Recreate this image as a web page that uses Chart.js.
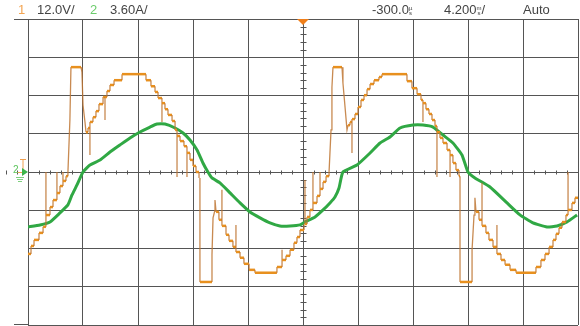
<!DOCTYPE html>
<html><head><meta charset="utf-8">
<script src="https://cdn.jsdelivr.net/npm/chart.js@4.4.1/dist/chart.umd.min.js"></script>
<style>
html,body{margin:0;padding:0;background:#fff;}
#wrap{position:relative;width:580px;height:326px;overflow:hidden;background:#fff;}
canvas{position:absolute;left:0;top:0;}
.t{position:absolute;top:2px;font:13px "Liberation Sans",Arial,sans-serif;color:#444;white-space:nowrap;line-height:16px;}
.u{display:inline-block;font-size:6px;line-height:5px;vertical-align:top;margin-top:4px;text-align:center;}
.g{position:absolute;font:10px "Liberation Sans",Arial,sans-serif;color:#5bc45b;}
</style></head><body>
<div id="wrap">
<canvas id="c" width="580" height="326"></canvas>
<span class="t" style="left:18px;color:#f3a552">1</span>
<span class="t" style="left:37px">12.0V/</span>
<span class="t" style="left:90px;color:#6ccc6c">2</span>
<span class="t" style="left:110px">3.60A/</span>
<span class="t" style="left:372px">-300.0<span class="u">µ<br>s</span></span>
<span class="t" style="left:444px">4.200<span class="u">m<br>s</span>/</span>
<span class="t" style="left:523px">Auto</span>
<span class="g" style="left:13px;top:164px">2</span>
</div>
<script>
// Time axis (ms), 4.2 ms/div, 10 divisions
const xTicks = [-21, -16.8, -12.6, -8.4, -4.2, 0, 4.2, 8.4, 12.6, 16.8, 21];
// CH1 volts, 12 V/div, 8 divisions
const yTicks = [-48, -36, -24, -12, 0, 12, 24, 36, 48];

// Channel 1 (voltage, V) — staircase waveform
const ch1Time = [
-21.00,-20.77,-20.77,-20.54,-20.54,-20.16,-20.16,-19.85,-19.85,-19.63,
-19.63,-19.63,-19.32,-19.32,-19.09,-19.09,-18.79,-18.79,-18.79,-18.56,
-18.56,-18.33,-18.33,-18.33,-18.10,-18.10,-17.95,-17.95,-17.80,-17.72,
-16.95,-16.88,-16.80,-16.65,-16.57,-16.42,-16.42,-16.27,-16.27,-16.27,
-16.04,-16.04,-15.81,-15.81,-15.58,-15.58,-15.27,-15.27,-15.12,-15.12,
-15.12,-14.97,-14.97,-14.74,-14.74,-14.43,-14.43,-13.82,-13.82,-11.99,
-11.99,-11.61,-11.61,-11.30,-11.30,-11.07,-11.07,-10.77,-10.77,-10.77,
-10.54,-10.54,-10.31,-10.31,-10.00,-10.00,-9.77,-9.77,-9.62,-9.62,
-9.62,-9.39,-9.39,-9.09,-9.09,-8.86,-8.86,-8.86,-8.63,-8.63,
-8.40,-8.40,-8.17,-8.17,-7.94,-7.94,-7.87,-7.87,-6.95,-6.95,
-6.87,-6.72,-6.72,-6.64,-6.42,-6.42,-6.19,-6.19,-6.19,-5.88,
-5.88,-5.65,-5.65,-5.35,-5.35,-5.12,-5.12,-5.12,-4.81,-4.81,
-4.51,-4.51,-4.12,-4.12,-3.67,-3.67,-1.99,-1.99,-1.60,-1.60,
-1.60,-1.30,-1.30,-0.99,-0.99,-0.69,-0.69,-0.46,-0.46,-0.23,
-0.23,0.08,0.08,0.15,0.15,0.15,0.31,0.31,0.53,0.53,
0.76,0.76,0.76,1.07,1.07,1.30,1.30,1.30,1.53,1.53,
1.76,1.76,1.99,1.99,2.14,2.21,2.29,2.98,3.05,3.21,
3.36,3.44,3.59,3.59,3.74,3.74,3.74,3.97,3.97,4.20,
4.20,4.43,4.43,4.66,4.66,4.89,4.89,5.12,5.12,5.42,
5.42,5.80,5.80,6.03,6.03,7.94,7.94,8.32,8.32,8.71,
8.71,9.01,9.01,9.16,9.16,9.16,9.39,9.39,9.62,9.62,
9.85,9.85,10.08,10.08,10.23,10.23,10.23,10.46,10.46,10.69,
10.69,11.00,11.00,11.23,11.23,11.23,11.45,11.45,11.68,11.68,
11.91,11.91,11.99,11.99,12.91,12.91,13.06,13.13,13.21,13.44,
13.44,13.67,13.67,13.67,13.97,13.97,14.20,14.20,14.51,14.51,
14.81,14.81,14.81,15.12,15.12,15.43,15.43,15.81,15.81,16.27,
16.27,17.79,17.79,18.17,18.17,18.48,18.48,18.79,18.79,19.09,
19.09,19.32,19.32,19.55,19.55,19.78,19.78,20.08,20.08,20.24,
20.24,20.24,20.54,20.54,20.77,20.77,21.00];
const ch1Volts = [
-25.7,-25.7,-23.2,-23.2,-21.3,-21.3,-19.1,-19.1,-17.2,-17.2,
0,-13.5,-13.5,-11.0,-11.0,-8.8,-8.8,0,-6.6,-6.6,
-4.4,-4.4,0,-2.8,-2.8,-1.3,-1.3,0,16.3,32.9,
32.9,31.3,21.0,15.7,12.5,12.5,13.8,13.8,5.3,15.7,
15.7,17.2,17.2,19.1,19.1,21.3,21.3,23.5,23.5,16.3,
23.5,23.5,25.4,25.4,27.3,27.3,28.8,28.8,30.7,30.7,
28.8,28.8,26.9,26.9,25.1,25.1,23.2,23.2,15.7,21.6,
21.6,19.7,19.7,17.9,17.9,16.0,16.0,13.2,13.2,-1.6,
11.3,11.3,9.7,9.7,8.1,8.1,-1.6,6.0,6.0,3.8,
3.8,1.9,1.9,0,0,-1.9,-1.9,-34.5,-34.5,-26.0,
-14.4,-11.9,-8.8,-12.5,-12.5,-15.0,-15.0,-5.6,-16.9,-16.9,
-19.7,-19.7,-21.6,-21.6,-23.5,-23.5,-16.6,-25.1,-25.1,-26.9,
-26.9,-28.8,-28.8,-30.7,-30.7,-31.6,-31.6,-29.8,-29.8,-24.4,
-27.6,-27.6,-26.3,-26.3,-24.4,-24.4,-22.2,-22.2,-20.4,-20.4,
-18.2,-18.2,-16.3,-16.3,-2.5,-16.3,-16.3,-14.1,-14.1,-11.9,
-11.9,0,-9.7,-9.7,-7.5,-7.5,0,-5.3,-5.3,-3.1,
-3.1,-1.3,-1.3,0,13.2,26.6,32.9,32.9,27.9,20.4,
13.2,14.7,14.7,15.7,15.7,6.0,16.6,16.6,18.2,18.2,
20.4,20.4,22.6,22.6,24.1,24.1,26.0,26.0,27.6,27.6,
28.8,28.8,29.8,29.8,30.7,30.7,28.5,28.5,26.3,26.3,
24.4,24.4,22.6,22.6,15.7,21.6,21.6,19.7,19.7,18.2,
18.2,16.3,16.3,14.4,14.4,-1.6,12.5,12.5,10.7,10.7,
9.1,9.1,6.9,6.9,-1.6,5.3,5.3,2.8,2.8,0.6,
0.6,-1.3,-1.3,-34.5,-34.5,-24.4,-13.5,-8.1,-12.5,-12.5,
-15.0,-15.0,-3.4,-16.9,-16.9,-19.1,-19.1,-21.3,-21.3,-23.5,
-23.5,-16.6,-25.7,-25.7,-27.6,-27.6,-29.1,-29.1,-30.7,-30.7,
-31.6,-31.6,-29.8,-29.8,-27.6,-27.6,-25.7,-25.7,-23.5,-23.5,
-21.3,-21.3,-19.4,-19.4,-17.5,-17.5,-15.7,-15.7,-13.5,-13.5,
0,-11.9,-11.9,-9.7,-9.7,-8.1,-8.1];

// Channel 2 (current, A), 3.60 A/div
const ch2Time = [
-21.00,-20.08,-19.32,-18.56,-17.95,-17.64,-17.26,-16.80,-16.27,-15.50,
-14.74,-13.98,-13.21,-12.45,-11.68,-11.15,-10.54,-9.77,-9.16,-8.63,
-8.09,-7.64,-7.26,-6.95,-6.34,-5.57,-4.81,-4.05,-3.28,-2.52,
-1.76,-0.99,-0.23,0.15,0.92,1.53,2.06,2.44,2.75,3.05,
4.12,5.12,5.88,6.64,7.41,8.40,9.16,9.93,10.69,11.45,
12.14,12.60,13.13,14.28,15.58,16.57,17.56,18.63,19.40,20.16,
20.93];
const ch2Amps = [
-5.17,-4.98,-4.70,-3.85,-3.10,-2.16,-1.22,0,0.66,1.13,
1.88,2.54,3.20,3.76,4.23,4.51,4.51,4.14,3.67,3.01,
2.07,0.85,0,-0.56,-1.03,-1.97,-2.91,-3.76,-4.32,-4.79,
-5.08,-5.08,-4.98,-4.70,-4.23,-3.57,-2.91,-2.35,-1.50,0,
0.66,1.79,2.73,3.29,4.14,4.42,4.42,4.23,3.48,2.73,
1.60,0,-0.56,-1.41,-2.91,-4.04,-4.79,-5.17,-5.08,-4.70,
-4.04];

const ch1Data = ch1Time.map((t, i) => ({x: t, y: ch1Volts[i]}));
const ch2Data = ch2Time.map((t, i) => ({x: t, y: ch2Amps[i]}));

function steep(ctx) {
  const dx = Math.abs(ctx.p1.x - ctx.p0.x), dy = Math.abs(ctx.p1.y - ctx.p0.y);
  return dx < dy * 0.6;
}

const deco = {
  id: 'deco',
  beforeDatasetsDraw(chart) {
    const {ctx, chartArea: a, scales: {x, y}} = chart;
    const cx = Math.round(x.getPixelForValue(0)) + 0.5;
    const cy = Math.round(y.getPixelForValue(0)) + 0.5;
    ctx.save();
    ctx.strokeStyle = '#555';
    ctx.lineWidth = 1;
    ctx.beginPath();
    ctx.moveTo(a.left - 14, Math.round(a.top) + 0.5); ctx.lineTo(a.left, Math.round(a.top) + 0.5);
    ctx.moveTo(a.left - 14, Math.round(a.bottom) - 0.5); ctx.lineTo(a.left, Math.round(a.bottom) - 0.5);
    for (let i = -20; i <= 20; i++) {
      if (i % 5 === 0) continue;
      const py = Math.round(y.getPixelForValue(i * 12 / 5)) + 0.5;
      ctx.moveTo(cx - 3, py); ctx.lineTo(cx + 3, py);
    }
    for (let i = -50; i <= 50; i++) {
      if (i % 5 === 0) continue;
      const px = Math.round(x.getPixelForValue(i * 4.2 / 5)) + 0.5;
      ctx.moveTo(px, cy - 2); ctx.lineTo(px, cy + 2);
    }
    ctx.stroke();
    ctx.restore();
  },
  afterDraw(chart) {
    const {ctx, chartArea: a, scales: {x, y}} = chart;
    const cx = x.getPixelForValue(0);
    const cy = y.getPixelForValue(0);
    ctx.save();
    ctx.fillStyle = '#f07f1a';
    ctx.beginPath();
    ctx.moveTo(cx - 6, a.top); ctx.lineTo(cx + 6, a.top); ctx.lineTo(cx, a.top + 6); ctx.closePath();
    ctx.fill();
    ctx.strokeStyle = '#f0a050'; ctx.lineWidth = 1;
    ctx.beginPath();
    ctx.moveTo(a.left - 8, cy - 12.5); ctx.lineTo(a.left - 2, cy - 12.5);
    ctx.moveTo(a.left - 5, cy - 12.5); ctx.lineTo(a.left - 5, cy + 3);
    ctx.moveTo(a.left - 11, cy + 0.5); ctx.lineTo(a.left - 5, cy + 0.5);
    ctx.stroke();
    ctx.fillStyle = '#3cb44a';
    ctx.beginPath();
    ctx.moveTo(a.left - 6, cy - 4); ctx.lineTo(a.left, cy); ctx.lineTo(a.left - 6, cy + 4); ctx.closePath();
    ctx.fill();
    ctx.strokeStyle = '#7fd07f';
    ctx.beginPath();
    ctx.moveTo(a.left - 12, cy + 5.5); ctx.lineTo(a.left - 4, cy + 5.5);
    ctx.moveTo(a.left - 11, cy + 7.5); ctx.lineTo(a.left - 5, cy + 7.5);
    ctx.moveTo(a.left - 10, cy + 9.5); ctx.lineTo(a.left - 6, cy + 9.5);
    ctx.stroke();
    ctx.restore();
  }
};

new Chart(document.getElementById('c'), {
  type: 'scatter',
  data: {
    datasets: [
      {
        label: 'CH2', data: ch2Data, yAxisID: 'y2', showLine: true,
        borderColor: '#30a844', borderWidth: 3, pointRadius: 0, tension: 0.15,
        order: 2
      },
      {
        label: 'CH1', data: ch1Data, yAxisID: 'y', showLine: true,
        borderColor: '#e8901e', borderWidth: 2.5, pointRadius: 0, tension: 0,
        borderJoinStyle: 'miter',
        segment: {
          borderColor: ctx => steep(ctx) ? 'rgba(190,118,50,0.85)' : '#e8901e',
          borderWidth: ctx => steep(ctx) ? 1.3 : 2.5
        },
        order: 1
      }
    ]
  },
  options: {
    responsive: false,
    animation: false,
    devicePixelRatio: 1,
    layout: {padding: {left: 28, right: 2, top: 19, bottom: 1}},
    plugins: {legend: {display: false}, tooltip: {enabled: false}},
    scales: {
      x: {
        type: 'linear', min: -21, max: 21,
        afterBuildTicks: s => { s.ticks = xTicks.map(v => ({value: v})); },
        ticks: {display: false},
        grid: {color: '#555', lineWidth: 1, drawTicks: false},
        border: {display: false}
      },
      y: {
        type: 'linear', min: -48, max: 48,
        afterBuildTicks: s => { s.ticks = yTicks.map(v => ({value: v})); },
        ticks: {display: false},
        grid: {color: '#555', lineWidth: 1, drawTicks: false},
        border: {display: false}
      },
      y2: {type: 'linear', min: -14.4, max: 14.4, display: false}
    }
  },
  plugins: [deco]
});
</script>
</body></html>
